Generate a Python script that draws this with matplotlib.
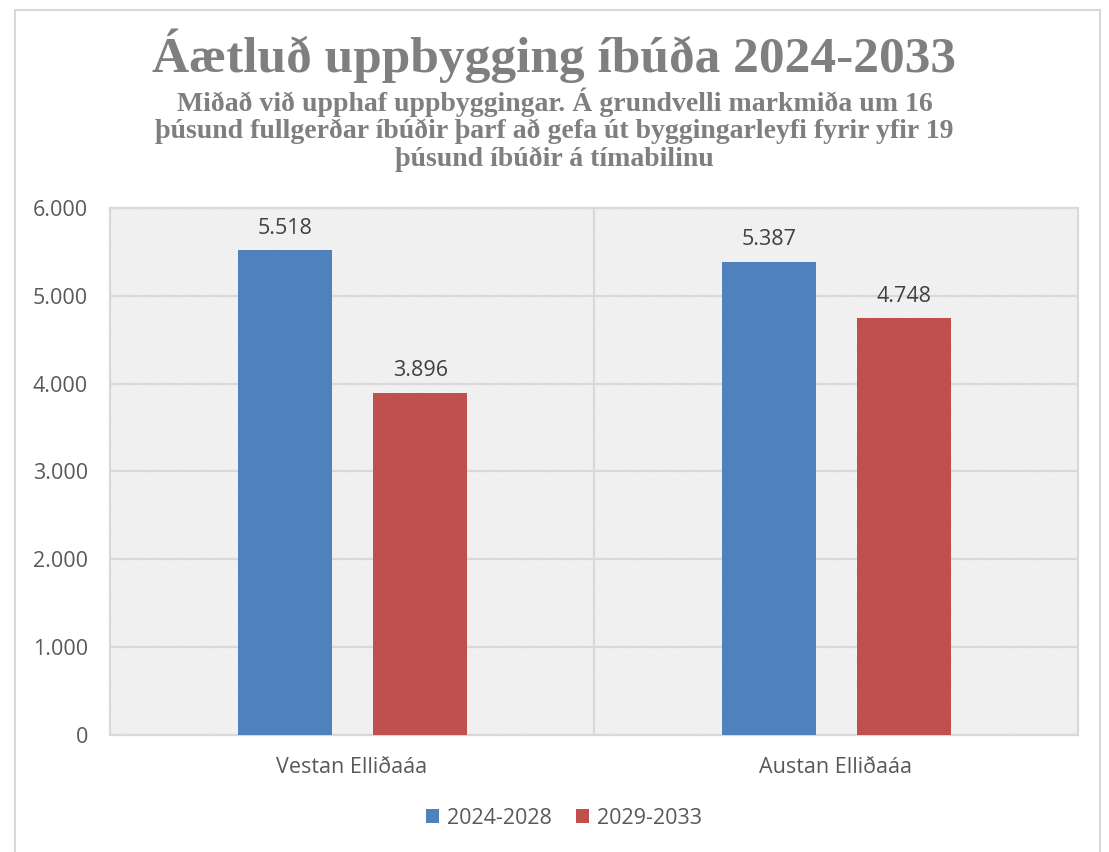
import matplotlib.pyplot as plt
import numpy as np
from matplotlib.patches import Rectangle
from matplotlib.ticker import FuncFormatter

# Gögn
svaedi = ['Vestan Elliðaáa', 'Austan Elliðaáa']
timabil = ['2024-2028', '2029-2033']
fyrra = [5518, 5387]
seinna = [3896, 4748]

blar = '#4f81bd'
raudur = '#c0504d'
grar_texti = '#595959'
grar_lina = '#d9d9d9'

plt.rcParams['font.family'] = ['Open Sans', 'DejaVu Sans']
plt.rcParams['hatch.linewidth'] = 0.6

fig = plt.figure(figsize=(11.09, 8.52), dpi=100)
ax = fig.add_axes([0.0992, 0.1373, 0.8728, 0.6186])

# skyggður bakgrunnur
ax.add_patch(Rectangle((0, 0), 1, 1, transform=ax.transAxes, facecolor='white',
                       edgecolor='#e2e2e2', linewidth=0, hatch='\\' * 14, zorder=0))

x = np.arange(len(svaedi))
breidd = 0.195
b1 = ax.bar(x - 0.139, fyrra, breidd, color=blar, zorder=3, label=timabil[0])
b2 = ax.bar(x + 0.141, seinna, breidd, color=raudur, zorder=3, label=timabil[1])

def punktar(v, pos=None):
    return f'{int(v):,}'.replace(',', '.')

for bars in (b1, b2):
    for b in bars:
        h = b.get_height()
        ax.text(b.get_x() + b.get_width() / 2, h + 130, punktar(h),
                ha='center', va='bottom', fontsize=15.5, color='#404040')

ax.set_xlim(-0.5, 1.5)
ax.set_ylim(0, 6000)
ax.set_yticks(range(0, 6001, 1000))
ax.yaxis.set_major_formatter(FuncFormatter(punktar))
ax.set_xticks(x)
ax.set_xticklabels(svaedi)
ax.tick_params(axis='both', length=0, labelsize=15.5, colors=grar_texti)
ax.tick_params(axis='x', pad=16)
ax.tick_params(axis='y', pad=16)

ax.grid(axis='y', color=grar_lina, linewidth=1.6, zorder=1)
ax.axvline(0.5, color=grar_lina, linewidth=1.6, zorder=1)
for s in ax.spines.values():
    s.set_color(grar_lina)
    s.set_linewidth(1.6)
ax.set_axisbelow(True)

fig.text(0.5, 0.935, 'Áætluð uppbygging íbúða 2024-2033', ha='center', va='center',
         fontsize=37, fontweight='bold', color='#7f7f7f', family='Liberation Serif')
fig.text(0.5, 0.848,
         'Miðað við upphaf uppbyggingar. Á grundvelli markmiða um 16\n'
         'þúsund fullgerðar íbúðir þarf að gefa út byggingarleyfi fyrir yfir 19\n'
         'þúsund íbúðir á tímabilinu',
         ha='center', va='center', fontsize=20, fontweight='bold', color='#7f7f7f',
         family='Liberation Serif', linespacing=1.1)

ax.legend(loc='center', bbox_to_anchor=(0.469, -0.158), ncol=2, frameon=False,
          fontsize=15.5, labelcolor=grar_texti, handlelength=0.6, handleheight=0.6,
          columnspacing=1.1, handletextpad=0.4)

# rammi utan um myndina
fig.add_artist(Rectangle((15 / 1109, -0.01), 1085 / 1109, 0.998, transform=fig.transFigure,
                         fill=False, edgecolor=grar_lina, linewidth=1.5))

fig.savefig('out.png', dpi=100)
